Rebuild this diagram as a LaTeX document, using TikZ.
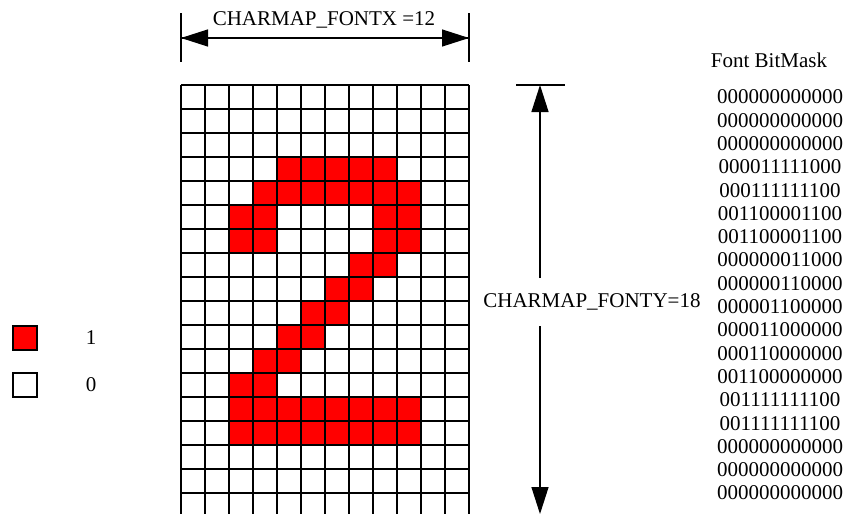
\documentclass[tikz,border=0pt]{standalone}
\usepackage{fontspec}
\setmainfont{Liberation Serif}
\usetikzlibrary{arrows.meta}
\tikzset{
  cell/.style={draw=black,line width=1.3pt},
  oncell/.style={cell,fill=red},
  dimline/.style={line width=1.3pt,-{Triangle[length=27pt,width=17pt]}},
  tick/.style={line width=1.1pt},
  txt/.style={font=\fontsize{21}{25}\selectfont,inner sep=0pt}
}
\begin{document}
\begin{tikzpicture}[x=1pt,y=-1pt]
\useasboundingbox (0,0) rectangle (846,514);
% red cells of the glyph
\foreach \r/\cols in {3/{4,...,8},4/{3,...,9},5/{2,3,8,9},6/{2,3,8,9},7/{7,8},8/{6,7},9/{5,6},10/{4,5},11/{3,4},12/{2,3},13/{2,...,9},14/{2,...,9}}
  \foreach \c in \cols
    \fill[red] (181+24*\c,85+24*\r) rectangle ++(24,24);
% grid 12 x 18
\foreach \i in {0,...,12}
  \draw[cell] (181+24*\i,85) -- (181+24*\i,517);
\foreach \j in {0,...,18}
  \draw[cell] (181,85+24*\j) -- (469,85+24*\j);
% width dimension
\draw[tick] (181,13) -- (181,62);
\draw[tick] (469,13) -- (469,62);
\coordinate (xl) at (181,38);
\coordinate (xr) at (469,38);
\draw[dimline] (xl) -- (xr);
\draw[dimline] (xr) -- (xl);
\node[txt] (xlab) at (324,20) {CHARMAP\_FONTX =12};
% height dimension
\draw[tick] (516,85) -- (565,85);
\node[txt] (ylab) at (592,302) {CHARMAP\_FONTY=18};
\coordinate (yt) at (540,85);
\coordinate (yb) at (540,514);
\coordinate (yu) at (540,278);
\coordinate (yd) at (540,326);
\draw[dimline] (yu) -- (yt);
\draw[dimline] (yd) -- (yb);
% bit mask
\node[txt] (bmtitle) at (769,60) {Font BitMask};
\foreach \bits [count=\i from 0] in {000000000000,000000000000,000000000000,000011111000,000111111100,001100001100,001100001100,000000011000,000000110000,000001100000,000011000000,000110000000,001100000000,001111111100,001111111100,000000000000,000000000000,000000000000}
  \node[txt] (bm\i) at (780,97+23.3*\i) {\bits};
% legend
\draw[oncell] (13,326) rectangle (37,350);
\node[txt] (one) at (91,338) {1};
\draw[cell] (13,373) rectangle (37,397);
\node[txt] (zero) at (91,385) {0};
\end{tikzpicture}
\end{document}
